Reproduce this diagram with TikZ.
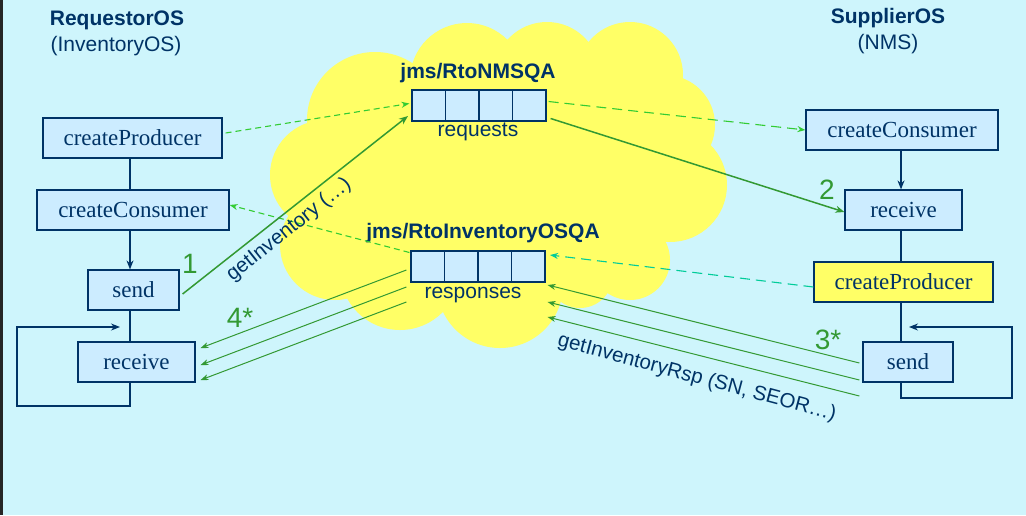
\documentclass[tikz,border=0pt]{standalone}
\usepackage{fontspec}
\setmainfont{Liberation Serif}
\setsansfont{Liberation Sans}
\usetikzlibrary{arrows.meta,calc}
\definecolor{navy}{RGB}{0,51,102}
\definecolor{boxblue}{RGB}{204,236,255}
\definecolor{skyback}{RGB}{206,245,252}
\definecolor{cloudy}{RGB}{255,255,102}
\definecolor{msggreen}{RGB}{51,153,51}
\definecolor{dashgreen}{RGB}{51,204,51}
\definecolor{tealdash}{RGB}{0,204,153}

\begin{document}
\begin{tikzpicture}[x=1pt,y=-1pt,
  opbox/.style={draw=navy,line width=1.2pt,fill=boxblue,text=navy,
    minimum height=40pt,inner sep=0pt,font=\fontsize{23}{26}\selectfont},
  queue/.style={draw=navy,line width=1.2pt,fill=boxblue,
    minimum width=134pt,minimum height=31pt,inner sep=0pt},
  qtitle/.style={text=navy,font=\sffamily\bfseries\fontsize{21}{24}\selectfont},
  qlabel/.style={text=navy,font=\sffamily\fontsize{21}{24}\selectfont},
  msglbl/.style={text=navy,font=\sffamily\fontsize{20.5}{24}\selectfont},
  num/.style={text=msggreen,font=\sffamily\fontsize{28}{30}\selectfont},
  flow/.style={draw=navy,line width=1.2pt},
  tip/.style={-{Stealth[length=9pt,width=7pt]}},
  smalltip/.style={-{Stealth[length=8pt,width=6pt]}},
  callmsg/.style={draw=msggreen,line width=1.5pt,tip},
  retmsg/.style={draw=msggreen,line width=1pt,smalltip},
  setupmsg/.style={draw=dashgreen,line width=1.1pt,dash pattern=on 6pt off 4pt,smalltip}]
\useasboundingbox (0,0) rectangle (1026,515);
\fill[skyback] (0,0) rectangle (1026,515);
\fill[black!85] (0,0) rectangle (2.5,515);
% the cloud
\fill[cloudy]
  (375,120) circle (68pt)
  (467,80) circle (57pt)
  (547,75) circle (53pt)
  (630,75) circle (53pt)
  (665,125) circle (50pt)
  (670,185) circle (57pt)
  (630,260) circle (40pt)
  (580,275) circle (33pt)
  (500,285) circle (63pt)
  (400,270) circle (60pt)
  (335,245) circle (55pt)
  (325,175) circle (55pt)
  (500,180) ellipse [x radius=170pt,y radius=110pt];
\path
  coordinate (vL) at (130,0)
  coordinate (vR) at (901,0)
  coordinate (loopL1) at (17,406)
  coordinate (loopL2) at (120,327)
  coordinate (loopR1) at (1012,398)
  coordinate (loopR2) at (909,327)
  coordinate (reqIn) at (408,116)
  coordinate (rspIn) at (550,255)
  ;
% headers
\node[qtitle] (hdL) at (117,20) {RequestorOS};
\node[qlabel] (subL) at (116,46) {(InventoryOS)};
\node[qtitle] (hdR) at (888,18) {SupplierOS};
\node[qlabel] (subR) at (888,44) {(NMS)};
% requestor side
\node[opbox,minimum width=179pt] (cpL) at (132.5,138) {createProducer};
\node[opbox,minimum width=192pt] (ccL) at (133,210) {createConsumer};
\node[opbox,minimum width=91pt] (sndL) at (133.5,290) {send};
\node[opbox,minimum width=117pt] (rcvL) at (136.5,362) {receive};
% supplier side
\node[opbox,minimum width=192pt] (ccR) at (902,130) {createConsumer};
\node[opbox,minimum width=117pt] (rcvR) at (903.5,210) {receive};
\node[opbox,fill=cloudy,minimum width=179pt] (cpR) at (903.5,282) {createProducer};
\node[opbox,minimum width=90pt] (sndR) at (908,362) {send};
% queues
\node[queue] (req) at (479,105.5) {};
\node[queue] (rsp) at (478,266.5) {};
\foreach \q in {req,rsp}
  \foreach \i in {1,2,3}
    \draw[navy,line width=1.2pt] ($(\q.north west)!\i/4!(\q.north east)$) -- ($(\q.south west)!\i/4!(\q.south east)$);
\node[qtitle] (reqT) at (478,73) {jms/RtoNMSQA};
\node[qlabel] (reqL) at (478,132) {requests};
\node[qtitle] (rspT) at (483,233) {jms/RtoInventoryOSQA};
\node[qlabel] (rspL) at (473,295) {responses};
% local flow
\draw[flow] (cpL.south -| vL) -- (ccL.north -| vL);
\draw[flow,tip] (ccL.south -| vL) -- (sndL.north -| vL);
\draw[flow] (sndL.south -| vL) -- (rcvL.north -| vL);
\draw[flow,tip] (rcvL.south -| vL) |- (loopL1) |- (loopL2);
\draw[flow,tip] (ccR.south -| vR) -- (rcvR.north -| vR);
\draw[flow] (rcvR.south -| vR) -- (cpR.north -| vR);
\draw[flow] (cpR.south -| vR) -- (sndR.north -| vR);
\draw[flow,tip] (sndR.south -| vR) |- (loopR1) |- (loopR2);
% messages
\draw[setupmsg] ($(cpL.east)+(3,-5)$) -- ($(req.west)+(-2,-2)$);
\draw[setupmsg,dash pattern=on 10pt off 6pt] ($(req.east)+(2,-4)$) -- (ccR.west);
\draw[setupmsg] ($(rsp.west)+(-1,-14)$) -- ($(ccL.east)+(0,-5)$);
\draw[setupmsg,draw=tealdash,dash pattern=on 10pt off 6pt] ($(cpR.west)+(0,5)$) -- (rspIn);
\draw[callmsg] ($(sndL.east)+(3,4)$) -- (reqIn);
\draw[callmsg] ($(req.east)+(4,13)$) -- ($(rcvR.west)+(0,2)$);
\foreach \a/\b in {3.5/-14,20.5/3,35.5/18}
  \draw[retmsg] ($(rsp.west)+(-4,\a)$) -- ($(rcvL.east)+(5,\b)$);
\foreach \a/\b in {1/18.5,18/35.5,34/50.5}
  \draw[retmsg] ($(sndR.west)+(-3,\a)$) -- ($(rsp.east)+(2,\b)$);
% labels
\node[msglbl,rotate=38.5] (lblInv) at (289,230) {getInventory (…)};
\node[msglbl,rotate=-15] (lblRsp) at (697,378) {getInventoryRsp (SN, SEOR…)};
\node[num] (n1) at (190,264) {1};
\node[num] (n2) at (827,190) {2};
\node[num] (n3) at (828,340) {3*};
\node[num] (n4) at (240,318) {4*};
\end{tikzpicture}
\end{document}
